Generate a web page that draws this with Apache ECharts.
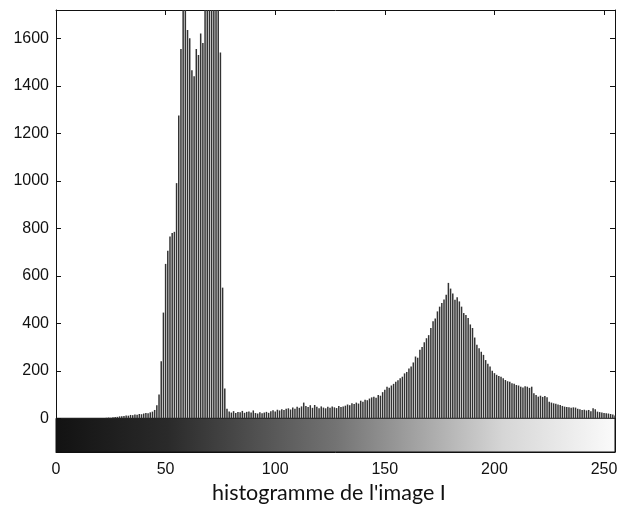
<!DOCTYPE html>
<html>
<head>
<meta charset="utf-8">
<script src="https://cdn.jsdelivr.net/npm/echarts@6/dist/echarts.min.js"></script>
<style>
html,body{margin:0;padding:0;background:#fff;}
#c{width:618px;height:512px;}
</style>
</head>
<body>
<div id="c"></div>
<script>
// histogram counts for gray levels 0..255
const counts = [
  0,0,0,0,0,0,0,0,0,0,0,0,0,0,0,0,0,0,0,0,0,0,0,
  2,3,2,4,5,6,8,9,10,12,11,14,13,16,15,18,17,20,22,21,25,28,35,55,
  100,240,445,650,705,765,780,785,990,1275,1555,1790,1770,1635,1600,1465,1440,1555,1530,1620,1580,1800,1850,1900,1880,1860,1820,1780,1540,550,125,40,
  28,24,30,22,26,25,31,23,27,29,24,33,
  22,20,25,21,24,27,23,
  30,34,28,36,33,38,35,40,
  42,37,45,40,48,44,50,
  66,52,47,55,44,56,48,42,50,
  45,42,48,44,50,46,43,52,47,50,53,
  58,55,63,60,66,62,
  74,70,78,76,83,88,
  91,86,98,95,110,120,
  133,128,138,145,154,160,168,175,189,195,
  210,218,235,260,255,288,300,320,337,350,
  380,408,420,450,470,485,500,520,570,546,
  525,499,510,492,470,443,435,422,395,380,
  340,310,295,280,267,245,230,218,200,190,
  183,178,175,168,161,156,154,147,145,140,
  138,133,130,135,133,128,133,105,98,91,
  95,90,94,88,70,66,63,61,58,56,
  52,49,47,46,44,46,45,40,38,35,
  36,33,35,30,42,38,28,26,24,22,
  21,20,18,16,12
];
const xTicks = [0, 50, 100, 150, 200, 250];
const yTicks = [0, 200, 400, 600, 800, 1000, 1200, 1400, 1600];
const xRange = [0, 255];
const yRange = [-142, 1719];
const colorbarRange = [-142, 0];
const xLabel = "histogramme de l'image I";

const bins = counts.map((c, i) => [i, c]);

const chart = echarts.init(document.getElementById('c'), null, {renderer: 'canvas'});
const axisLineStyle = {color: '#111', width: 1};
chart.setOption({
  backgroundColor: '#fff',
  animation: false,
  title: {
    text: xLabel,
    left: 212,
    top: 482,
    padding: 0,
    textStyle: {fontFamily: 'Lato', fontSize: 21.5, fontWeight: 'normal', color: '#111'}
  },
  grid: {left: 56, right: 3, top: 10, bottom: 60, containLabel: false, outerBoundsMode: 'none'},
  xAxis: [
    {
      type: 'value', min: xRange[0], max: xRange[1], position: 'bottom',
      axisLine: {show: true, onZero: false, lineStyle: axisLineStyle},
      axisTick: {show: true, inside: true, length: 5, customValues: xTicks, lineStyle: axisLineStyle},
      axisLabel: {customValues: xTicks, fontFamily: 'Liberation Sans', fontSize: 16, color: '#111', margin: 10,
                  formatter: v => String(v)},
      splitLine: {show: false}
    },
    {
      type: 'value', min: xRange[0], max: xRange[1], position: 'top',
      axisLine: {show: true, onZero: false, lineStyle: axisLineStyle},
      axisTick: {show: true, inside: true, length: 5, customValues: xTicks, lineStyle: axisLineStyle},
      axisLabel: {show: false},
      splitLine: {show: false}
    }
  ],
  yAxis: [
    {
      type: 'value', min: yRange[0], max: yRange[1], position: 'left',
      axisLine: {show: true, onZero: false, lineStyle: axisLineStyle},
      axisTick: {show: true, inside: true, length: 5, customValues: yTicks, lineStyle: axisLineStyle},
      axisLabel: {customValues: yTicks, fontFamily: 'Liberation Sans', fontSize: 16, color: '#111', margin: 7,
                  formatter: v => String(v)},
      splitLine: {show: false}
    },
    {
      type: 'value', min: yRange[0], max: yRange[1], position: 'right',
      axisLine: {show: true, onZero: false, lineStyle: axisLineStyle},
      axisTick: {show: true, inside: true, length: 5, customValues: yTicks, lineStyle: axisLineStyle},
      axisLabel: {show: false},
      splitLine: {show: false}
    }
  ],
  series: [{
    type: 'bar',
    xAxisIndex: 0,
    yAxisIndex: 0,
    data: bins,
    barWidth: 1.5,
    itemStyle: {color: '#333'},
    clip: true,
    markArea: {
      silent: true,
      itemStyle: {
        color: new echarts.graphic.LinearGradient(0, 0, 1, 0, [
          {offset: 0, color: '#121212'},
          {offset: 0.2, color: '#2a2a2a'},
          {offset: 0.5, color: '#737373'},
          {offset: 0.8, color: '#d6d6d6'},
          {offset: 1, color: '#fbfbfb'}
        ]),
        borderColor: '#111',
        borderWidth: 1,
        opacity: 1
      },
      data: [[{xAxis: xRange[0], yAxis: colorbarRange[0]}, {xAxis: xRange[1], yAxis: colorbarRange[1]}]]
    }
  }]
});
</script>
</body>
</html>
